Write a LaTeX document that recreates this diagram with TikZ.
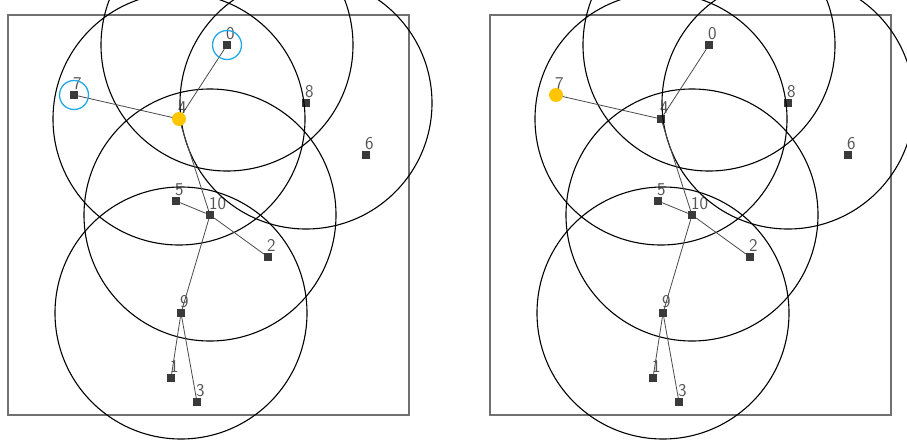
\documentclass[tikz,border=0pt]{standalone}
\definecolor{nodegray}{HTML}{3A3A3A}
\definecolor{labgray}{HTML}{555555}
\definecolor{linkgray}{HTML}{4A4A4A}
\definecolor{framegray}{HTML}{707070}
\definecolor{gold}{HTML}{FFC600}
\definecolor{ringblue}{HTML}{22A8E4}
\tikzset{
  sensor/.style={rectangle, fill=nodegray, draw=none, minimum size=8pt, inner sep=0pt},
  lab/.style={font=\sffamily\fontsize{18}{18}\selectfont, text=labgray, inner sep=0pt, anchor=south west},
  link/.style={draw=linkgray, line width=0.8pt},
  txrange/.style={draw=black, line width=1.1pt},
  frame/.style={draw=framegray, line width=1.4pt},
  hilite/.style={circle, fill=gold, minimum size=14pt, inner sep=0pt},
  ring/.style={circle, draw=ringblue, line width=1.3pt, minimum size=29pt, inner sep=0pt},
}
\begin{document}
\begin{tikzpicture}[x=1pt, y=-1pt]
\useasboundingbox (0,0) rectangle (907,444);
\clip (0,0) rectangle (907,444);
\foreach \p/\dx in {L/0, R/482} {
  \begin{scope}[xshift=\dx]
    % sensors
    \foreach \n/\x/\y in {0/227/45, 7/74/95, 4/179/119, 8/306/103, 6/366/155,
                          5/176/201, 10/210/215, 2/268/257, 9/181/313, 1/171/378, 3/197/402} {
      \node[sensor] (\p-\n) at (\x,\y) {};
      \node[lab] (\p-lab\n) at (\x-1,\y-5.5) {\n};
    }
    % frame
    \draw[frame] (8,15) rectangle (409,415);
    % transmission ranges
    \foreach \c in {0,4,8,10,9} {
      \draw[txrange] (\p-\c.center) circle[radius=126];
    }
    % links
    \draw[link] (\p-0) -- (\p-4);
    \draw[link] (\p-7) -- (\p-4);
    \draw[link] (\p-4) -- (\p-10);
    \draw[link] (\p-5) -- (\p-10);
    \draw[link] (\p-10) -- (\p-2);
    \draw[link] (\p-10) -- (\p-9);
    \draw[link] (\p-9) -- (\p-1);
    \draw[link] (\p-9) -- (\p-3);
  \end{scope}
}
\node[hilite] (L-hl) at (L-4) {};
\node[ring] (L-ring7) at (L-7) {};
\node[ring] (L-ring0) at (L-0) {};
\node[hilite] (R-hl) at (R-7) {};
\end{tikzpicture}
\end{document}
